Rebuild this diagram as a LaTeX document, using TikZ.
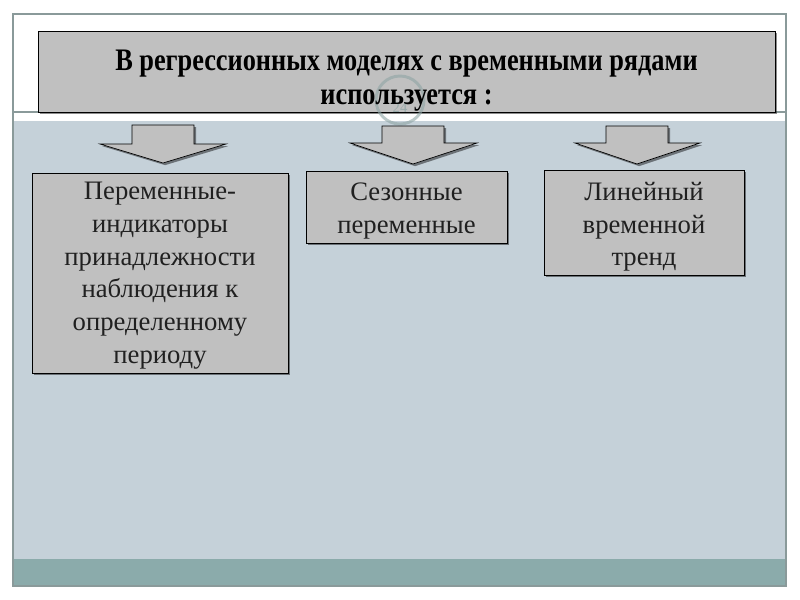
\documentclass[tikz,border=0pt]{standalone}
\usepackage{fontspec}
\setmainfont{Liberation Serif}
\usetikzlibrary{shadows}
\definecolor{slidebg}{HTML}{C5D1D9}
\definecolor{boxfill}{HTML}{C0C0C0}
\definecolor{teal2}{HTML}{8BABAB}
\definecolor{framegray}{HTML}{8A9A9A}
\definecolor{numcol}{HTML}{8FA5A5}
\definecolor{textdark}{HTML}{202020}
\tikzset{
  shade2/.style={drop shadow={shadow xshift=1.6pt, shadow yshift=-1.6pt, fill=black, opacity=0.45}},
  boxstyle/.style={draw=black, line width=0.6pt, fill=boxfill, shade2, inner sep=0pt},
  boxtext/.style={align=center, text=textdark, font=\fontsize{20}{24.5}\selectfont, inner sep=0pt},
  headstyle/.style={draw=black, line width=0.7pt, fill=boxfill, shade2, inner sep=0pt},
  headtext/.style={align=center, text=black, font=\fontsize{23.5}{25}\selectfont\bfseries, inner sep=0pt},
  blockarrow/.style={draw=black, line width=0.5pt, fill=boxfill, shade2}
}
\begin{document}
\begin{tikzpicture}[x=0.75pt, y=-0.75pt]
\useasboundingbox (0,0) rectangle (800,600);
\fill[white] (0,0) rectangle (800,600);
% slide background
\fill[slidebg] (13,121) rectangle (786,559);
\fill[teal2] (13,559) rectangle (786,586);
\draw[framegray, line width=0.8pt] (13,112) -- (786,112);
\draw[framegray, line width=0.8pt] (13,14) rectangle (786,586);
% header
\node[headstyle, minimum width=552.75pt, minimum height=60.75pt] (head) at (406.5,71.5) {};
% page number (shows through)
\draw[numcol, line width=2.2pt, opacity=0.6] (400,100) circle [radius=24];
\node[text=numcol, opacity=0.8, font=\fontsize{11}{12}\selectfont] (pnum) at (400,108) {24};
\node[headtext] (headt) at (406.5,80.5)
  {\scalebox{0.84}[1]{В регрессионных моделях с временными рядами}\\\scalebox{0.84}[1]{используется :}};
% arrows
\draw[blockarrow] (132,125) -- (194,125) -- (194,144) -- (226,144) -- (163,163) -- (100,144) -- (132,144) -- cycle;
\draw[blockarrow] (382,126) -- (444,126) -- (444,143) -- (477,143) -- (413,164) -- (350,143) -- (382,143) -- cycle;
\draw[blockarrow] (606,126) -- (668,126) -- (668,143) -- (700,143) -- (637,164) -- (575,143) -- (606,143) -- cycle;
% boxes
\node[boxstyle, minimum width=192pt, minimum height=150pt] (b1) at (160,273) {};
\node[boxtext] (b1t) at (160,275.5)
  {Переменные-\\индикаторы\\принадлежности\\наблюдения к\\определенному\\периоду};
\node[boxstyle, minimum width=150.75pt, minimum height=54pt] (b2) at (406.5,207) {};
\node[boxtext] (b2t) at (406.5,211) {Сезонные\\переменные};
\node[boxstyle, minimum width=150pt, minimum height=78.75pt] (b3) at (644,222.5) {};
\node[boxtext] (b3t) at (644,227) {Линейный\\временной\\тренд};
\end{tikzpicture}
\end{document}
